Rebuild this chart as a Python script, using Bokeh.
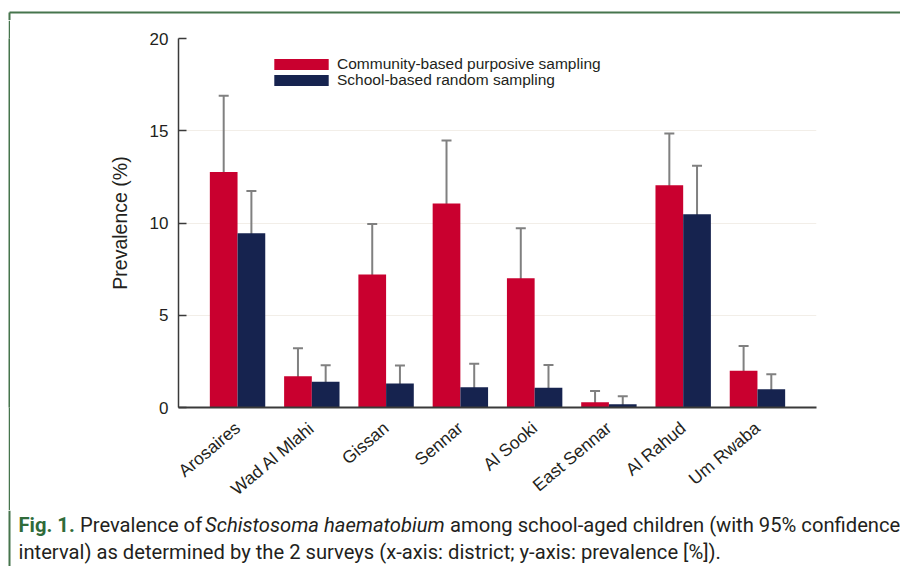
from bokeh.plotting import figure
from bokeh.models import (ColumnDataSource, FactorRange, Range1d, Whisker, TeeHead, Legend,
                          LegendItem, Label, FixedTicker, Spacer)
from bokeh.layouts import column, row
from bokeh.transform import dodge
from bokeh.embed import file_html
from bokeh.resources import INLINE

districts = ["Arosaires", "Wad Al Mlahi", "Gissan", "Sennar", "Al Sooki",
             "East Sennar", "Al Rahud", "Um Rwaba"]
community = [12.77, 1.70, 7.21, 11.06, 7.01, 0.29, 12.05, 1.99]
community_lower = [8.62, 0.22, 4.48, 7.64, 4.28, -0.29, 9.27, 0.60]
community_upper = [16.90, 3.21, 9.94, 14.47, 9.72, 0.90, 14.85, 3.34]
school = [9.45, 1.39, 1.30, 1.10, 1.07, 0.18, 10.48, 0.99]
school_lower = [7.14, 0.49, 0.34, -0.14, -0.14, -0.18, 7.88, 0.20]
school_upper = [11.74, 2.29, 2.28, 2.37, 2.31, 0.61, 13.10, 1.80]
y_ticks = [0, 5, 10, 15, 20]
series_names = ["Community-based purposive sampling", "School-based random sampling"]

RED = "#c9002f"
NAVY = "#16234f"
ERR = "#808080"
TXT = "#231f20"
GREEN = "#46754d"
FIGGREEN = "#2f6b3a"
FONT = "Liberation Sans"
CAPFONT = "Roboto"

TOTAL_W = 900
TOP_H = 20
MID_H = 490
CAP_H = 56
LINE_X = 9
LINE_Y = 12
GAP_L, LINE_W, GAP_R = 8, 2, 10
CHART_W = TOTAL_W - GAP_L - LINE_W - GAP_R


def strip(w, h):
    f = figure(width=w, height=h, output_backend="svg", toolbar_location=None,
               x_range=Range1d(0, w), y_range=Range1d(h, 0),
               x_axis_type=None, y_axis_type=None, min_border=0)
    f.outline_line_color = None
    f.background_fill_color = "white"
    f.border_fill_color = "white"
    return f


# ---------------- chart ----------------
src = ColumnDataSource(dict(
    d=districts, c=community, cl=community_lower, cu=community_upper,
    s=school, sl=school_lower, su=school_upper,
))

p = figure(width=CHART_W, height=MID_H, output_backend="svg",
           toolbar_location=None,
           x_range=FactorRange(factors=districts, range_padding=0.295,
                               range_padding_units="absolute"),
           y_range=Range1d(0, 20))
p.min_border_left = 158
p.min_border_right = 84
p.min_border_top = 18
p.min_border_bottom = 103
p.outline_line_color = None
p.background_fill_color = "white"
p.border_fill_color = "white"

bw = 0.373
off = bw / 2
r1 = p.vbar(x=dodge("d", -off, range=p.x_range), top="c", width=bw, source=src,
            fill_color=RED, line_color=None)
r2 = p.vbar(x=dodge("d", off, range=p.x_range), top="s", width=bw, source=src,
            fill_color=NAVY, line_color=None)

for base_off, lo, up in ((-off, "cl", "cu"), (off, "sl", "su")):
    w = Whisker(base=dodge("d", base_off, range=p.x_range), lower=lo, upper=up,
                source=src, line_color=ERR, line_width=2,
                upper_head=TeeHead(size=10, line_color=ERR, line_width=2),
                lower_head=TeeHead(size=10, line_color=ERR, line_width=2))
    p.add_layout(w)

p.xaxis.axis_line_color = "#3a3a3a"
p.xaxis.axis_line_width = 2
p.xaxis.major_tick_line_color = None
p.xaxis.minor_tick_line_color = None
p.xaxis.major_label_orientation = 0.70
p.xaxis.major_label_text_font = FONT
p.xaxis.major_label_text_font_size = "17.5px"
p.xaxis.major_label_text_color = TXT
p.xaxis.major_label_standoff = 12

p.yaxis.ticker = FixedTicker(ticks=y_ticks)
p.yaxis.axis_line_color = "#3a3a3a"
p.yaxis.axis_line_width = 1.5
p.yaxis.major_tick_in = 8
p.yaxis.major_tick_out = 0
p.yaxis.major_tick_line_color = "#3a3a3a"
p.yaxis.major_tick_line_width = 1.5
p.yaxis.minor_tick_line_color = None
p.yaxis.major_label_text_font = FONT
p.yaxis.major_label_text_font_size = "17px"
p.yaxis.major_label_text_color = TXT
p.yaxis.major_label_standoff = 10
p.yaxis.axis_label = "Prevalence (%)"
p.yaxis.axis_label_text_font = FONT
p.yaxis.axis_label_text_font_size = "19.5px"
p.yaxis.axis_label_text_font_style = "normal"
p.yaxis.axis_label_text_color = TXT
p.yaxis.axis_label_standoff = 16

p.xgrid.grid_line_color = None
p.ygrid.ticker = FixedTicker(ticks=[5, 10, 15])
p.ygrid.grid_line_color = "#f2eee8"
p.ygrid.grid_line_width = 1

for name, rend, loc in ((series_names[0], r1, (89, 334)),
                        (series_names[1], r2, (89, 318))):
    lg = Legend(items=[LegendItem(label=name, renderers=[rend])],
                location=loc, orientation="vertical",
                glyph_width=68, glyph_height=14, label_height=14, spacing=0,
                padding=0, margin=0, label_standoff=2,
                label_text_font=FONT, label_text_font_size="15.5px",
                label_text_color=TXT, border_line_color=None,
                background_fill_alpha=0)
    p.add_layout(lg, "center")

# ---------------- journal frame ----------------
p_top = strip(TOTAL_W, TOP_H)
p_top.segment(x0=[LINE_X], y0=[LINE_Y], x1=[TOTAL_W], y1=[LINE_Y],
              line_color=GREEN, line_width=2)
p_top.segment(x0=[LINE_X], y0=[LINE_Y], x1=[LINE_X], y1=[TOP_H],
              line_color=GREEN, line_width=2)

p_line = figure(width=LINE_W, height=MID_H, output_backend="svg", toolbar_location=None,
                x_axis_type=None, y_axis_type=None, min_border=0)
p_line.outline_line_color = None
p_line.background_fill_color = GREEN
p_line.border_fill_color = GREEN

p_cap = strip(TOTAL_W, CAP_H)
p_cap.segment(x0=[LINE_X], y0=[0], x1=[LINE_X], y1=[CAP_H],
              line_color=GREEN, line_width=2)

cap_size = "20.2px"
y1, y2 = 14, 41
parts = [
    ("Fig. 1.", 18, y1, "bold", FIGGREEN),
    ("Prevalence of", 79.5, y1, "normal", TXT),
    ("Schistosoma haematobium", 204.5, y1, "italic", TXT),
    ("among school-aged children (with 95% confidence", 449.5, y1, "normal", TXT),
    ("interval) as determined by the 2 surveys (x-axis: district; y-axis: prevalence [%]).",
     18, y2, "normal", TXT),
]
for txt, x, y, style, col in parts:
    p_cap.add_layout(Label(x=x, y=y, text=txt, text_font=CAPFONT,
                           text_font_size=cap_size, text_font_style=style,
                           text_color=col, text_baseline="middle", text_align="left"))

mid = row(Spacer(width=GAP_L, height=MID_H), p_line,
          Spacer(width=GAP_R, height=MID_H), p)
layout = column(p_top, mid, p_cap)
open("out.html", "w").write(file_html(layout, INLINE))
